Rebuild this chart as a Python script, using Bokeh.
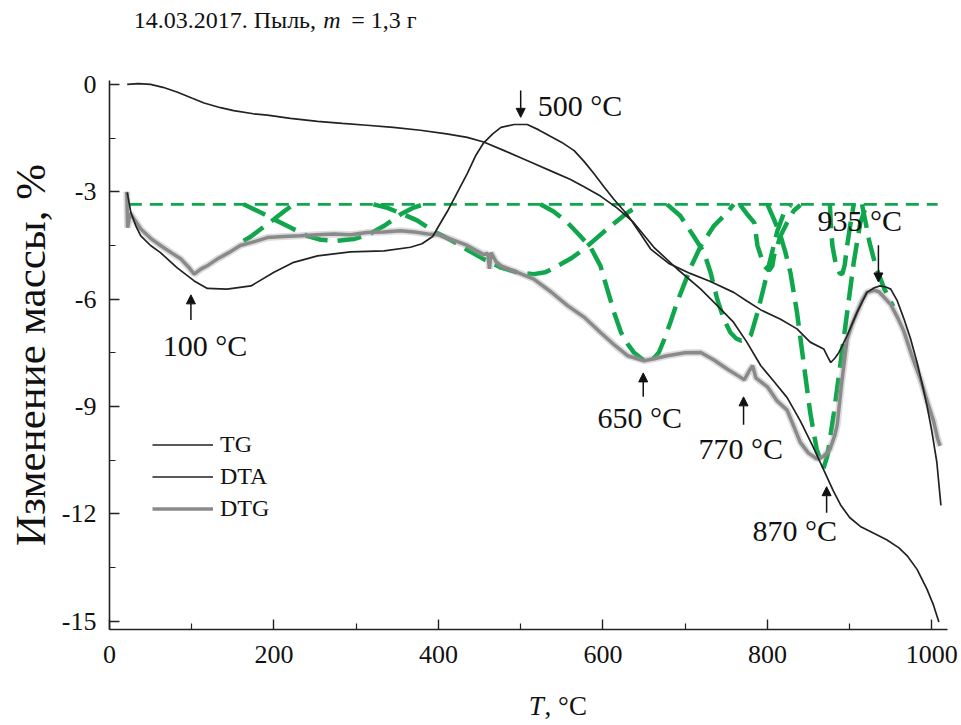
from bokeh.plotting import figure
from bokeh.models import (Range1d, FixedTicker, Label, Arrow, NormalHead,
                          Legend, LegendItem)
from bokeh.embed import file_html
from bokeh.resources import INLINE

# ---------------- data ----------------
tg_t = [21.5, 35, 50, 65, 82, 100, 115, 135, 151, 175, 192, 220, 253, 283, 313,
        345, 378, 410, 435, 455, 480, 500, 516, 540, 560, 577, 597, 617, 637,
        662, 690, 719, 740, 759, 775, 792, 808, 824, 840, 855, 869, 880, 889,
        900, 913, 930, 945, 960, 970, 982, 994, 1002, 1008.5]
tg_m = [0.0, 0.02, 0.0, -0.08, -0.21, -0.38, -0.52, -0.65, -0.73, -0.82, -0.86,
        -0.95, -1.03, -1.09, -1.14, -1.2, -1.28, -1.38, -1.48, -1.61, -1.85,
        -2.05, -2.21, -2.45, -2.65, -2.86, -3.12, -3.45, -3.85, -4.55, -5.15,
        -5.72, -6.2, -6.65, -7.2, -7.86, -8.3, -8.75, -9.4, -10.1, -10.8,
        -11.35, -11.75, -12.1, -12.35, -12.55, -12.72, -12.95, -13.17, -13.55,
        -14.1, -14.55, -15.02]

dta_t = [21.6, 26, 32, 38, 50, 62, 82, 103, 119, 143, 172, 200, 224, 253, 293,
         334, 366, 380, 393, 403, 412, 420, 435, 445, 455, 466, 476, 492, 508,
         522, 536, 550, 565, 577, 589, 601, 613, 630, 645, 658, 680, 706, 730,
         759, 775, 792, 816, 836, 852, 868.5, 873, 877, 882, 887, 897, 909, 921,
         930, 937, 944, 950, 958, 966, 974, 982, 988, 994, 1000, 1006, 1011]
dta_v = [-3.02, -3.58, -3.95, -4.23, -4.5, -4.7, -5.12, -5.49, -5.7, -5.72,
         -5.63, -5.25, -4.97, -4.79, -4.68, -4.65, -4.55, -4.45, -4.25, -3.85,
         -3.5, -3.15, -2.49, -2.0, -1.63, -1.38, -1.2, -1.12, -1.12, -1.27,
         -1.45, -1.62, -1.85, -2.15, -2.49, -2.85, -3.2, -3.65, -4.15, -4.6,
         -5.0, -5.28, -5.5, -5.81, -6.05, -6.3, -6.56, -6.83, -7.2, -7.39, -7.6,
         -7.77, -7.65, -7.49, -7.02, -6.37, -5.81, -5.68, -5.63, -5.66, -5.72,
         -6.05, -6.55, -7.1, -7.77, -8.35, -8.97, -9.7, -10.55, -11.76]

dtg_t = [21, 22, 25, 38, 50, 62, 75, 87, 96, 103, 111, 120, 131, 145, 159, 175,
         192, 212, 232, 252, 273, 293, 313, 333, 354, 370, 387, 400, 415, 435,
         455, 460, 462, 464, 470, 476, 496, 516, 537, 557, 577, 597, 615, 630,
         650, 665, 678, 700, 719, 735, 751, 765, 772, 778, 782, 786, 800, 812,
         824, 840, 850, 860, 868, 876, 882, 885, 890, 897, 903, 909, 915, 921,
         930, 936, 942, 950, 958, 966, 976, 986, 995, 1002, 1007, 1010]
dtg_v = [-3.0, -4.0, -3.6, -4.04, -4.3, -4.5, -4.7, -4.88, -5.1, -5.3, -5.16,
         -5.05, -4.88, -4.7, -4.5, -4.4, -4.28, -4.25, -4.23, -4.2, -4.18, -4.2,
         -4.14, -4.12, -4.09, -4.12, -4.18, -4.2, -4.32, -4.5, -4.75, -4.72,
         -5.15, -4.7, -4.95, -5.07, -5.25, -5.44, -5.8, -6.18, -6.5, -6.93,
         -7.3, -7.58, -7.72, -7.65, -7.58, -7.5, -7.49, -7.7, -7.95, -8.15,
         -8.25, -8.0, -7.86, -8.2, -8.45, -8.85, -9.1, -10.0, -10.3, -10.46,
         -10.4, -10.2, -9.8, -9.5, -8.4, -7.11, -6.7, -6.37, -6.05, -5.81,
         -5.75, -5.8, -5.95, -6.15, -6.5, -6.9, -7.6, -8.23, -8.9, -9.4, -9.9,
         -10.1]

baseline_t = [23.5, 1007]
baseline_v = [-3.35, -3.35]

# deconvolution components (green dashed)
g1_t = [163, 172, 184, 192, 200, 212, 224]
g1_v = [-4.37, -4.25, -4.04, -3.9, -3.77, -3.55, -3.35]
g2_t = [163, 184, 200, 220, 240, 257, 277, 297, 314, 334, 354, 370, 382]
g2_v = [-3.35, -3.58, -3.77, -4.0, -4.23, -4.34, -4.37, -4.32, -4.21, -3.95,
        -3.63, -3.44, -3.35]
g3_t = [321, 338, 354, 374, 394, 415, 435, 455, 476, 496, 516, 530, 545, 562,
        577, 592, 605, 618, 630, 646]
g3_v = [-3.35, -3.45, -3.6, -3.8, -4.1, -4.35, -4.62, -4.88, -5.12, -5.25,
        -5.3, -5.25, -5.07, -4.85, -4.6, -4.3, -4.04, -3.8, -3.58, -3.35]
g4_t = [524, 540, 557, 571, 585, 597, 605, 614, 622, 630, 638, 648, 658, 668,
        675, 682, 690, 698, 708, 719, 735, 751, 759]
g4_v = [-3.35, -3.55, -3.86, -4.2, -4.55, -5.07, -5.7, -6.4, -6.93, -7.25,
        -7.5, -7.68, -7.75, -7.49, -7.1, -6.65, -6.1, -5.63, -5.05, -4.51,
        -3.95, -3.58, -3.35]
g5_t = [678, 694, 710, 723, 731, 739, 747, 755, 762, 768, 775, 780, 788, 796,
        804, 812, 820, 828]
g5_v = [-3.35, -3.67, -4.23, -4.7, -5.26, -6.0, -6.56, -6.93, -7.1, -7.16,
        -7.12, -7.0, -6.37, -5.63, -4.85, -4.1, -3.6, -3.38]
g6_t = [767, 777, 784, 788, 796, 802, 806, 808, 816, 824, 832, 840]
g6_v = [-3.37, -3.67, -3.86, -4.51, -5.07, -5.2, -5.07, -4.79, -4.23, -3.86,
        -3.53, -3.37]
g7_t = [800, 808, 816, 822, 828, 836, 844, 852, 860, 868, 873, 881, 889, 897,
        905, 913, 921]
g7_v = [-3.35, -3.77, -4.23, -4.7, -5.26, -6.37, -7.77, -9.16, -10.2, -10.74,
        -10.37, -9.16, -7.77, -6.37, -4.97, -3.86, -3.35]
g8_t = [876, 877, 879, 883, 888, 891, 894, 897, 901, 905]
g8_v = [-3.35, -3.85, -4.5, -5.0, -5.28, -5.3, -5.05, -4.5, -3.9, -3.35]
g9_t = [915, 919, 924, 932, 942, 953]
g9_v = [-3.35, -3.8, -4.4, -5.1, -5.7, -6.2]

x_ticks = [0, 200, 400, 600, 800, 1000]
x_tick_labels = ["0", "200", "400", "600", "800", "1000"]
x_minor = [100, 300, 500, 700, 900]
y_ticks = [-15, -12, -9, -6, -3, 0]
y_tick_labels = ["-15", "-12", "-9", "-6", "-3", "0"]
y_minor = [-13.5, -10.5, -7.5, -4.5, -1.5]

peak_temps = [100, 500, 650, 770, 870, 935]
peak_labels = ["100 °C", "500 °C", "650 °C", "770 °C", "870 °C", "935 °C"]

series_names = ["TG", "DTA", "DTG"]

# ---------------- figure ----------------
FONT = "Liberation Serif"
p = figure(width=961, height=725, output_backend="svg", toolbar_location=None,
           x_range=Range1d(0, 1019), y_range=Range1d(-15.23, 0.11),
           min_border_left=109, min_border_right=14, min_border_top=80,
           min_border_bottom=95)
p.outline_line_color = None
p.xgrid.visible = False
p.ygrid.visible = False
p.background_fill_color = "white"
p.border_fill_color = "white"

for ax in (p.xaxis[0], p.yaxis[0]):
    ax.axis_line_color = "#222222"
    ax.axis_line_width = 1.6
    ax.major_tick_line_color = "#222222"
    ax.minor_tick_line_color = "#222222"
    ax.major_tick_line_width = 1.4
    ax.minor_tick_line_width = 1.2
    ax.major_tick_in = 10
    ax.major_tick_out = 0
    ax.minor_tick_in = 6
    ax.minor_tick_out = 0
    ax.major_label_text_font = FONT
    ax.major_label_text_font_size = "26px"
    ax.major_label_text_color = "#111111"

p.xaxis.ticker = FixedTicker(ticks=x_ticks, minor_ticks=x_minor)
p.xaxis.major_label_overrides = {t: s for t, s in zip(x_ticks, x_tick_labels)}
p.xaxis.major_label_standoff = 16
p.yaxis.ticker = FixedTicker(ticks=y_ticks, minor_ticks=y_minor)
p.yaxis.major_label_overrides = {t: s for t, s in zip(y_ticks, y_tick_labels)}
p.yaxis.major_label_standoff = 13
p.yaxis.axis_label = "Изменение массы, %"
p.yaxis.axis_label_text_font = FONT
p.yaxis.axis_label_text_font_style = "normal"
p.yaxis.axis_label_text_font_size = "43px"
p.yaxis.axis_label_text_color = "#111111"
p.yaxis.axis_label_standoff = 5

# ---------------- curves ----------------
GREEN = "#10a64c"
p.line(baseline_t, baseline_v, line_color=GREEN, line_width=2.6, line_dash="13 8")
for gt, gv in [(g1_t, g1_v), (g2_t, g2_v), (g3_t, g3_v), (g4_t, g4_v),
               (g5_t, g5_v), (g6_t, g6_v), (g7_t, g7_v), (g8_t, g8_v),
               (g9_t, g9_v)]:
    p.line(gt, gv, line_color=GREEN, line_width=4.5, line_dash="24 10")

p.line(dtg_t, dtg_v, line_color="#9a9a9a", line_width=7, line_alpha=0.35)
r_dtg = p.line(dtg_t, dtg_v, line_color="#8a8a8a", line_width=3.5)
r_tg = p.line(tg_t, tg_m, line_color="#222222", line_width=1.7)
r_dta = p.line(dta_t, dta_v, line_color="#222222", line_width=1.7)

legend = Legend(items=[LegendItem(label=series_names[0], renderers=[r_tg]),
                       LegendItem(label=series_names[1], renderers=[r_dta]),
                       LegendItem(label=series_names[2], renderers=[r_dtg])],
                location=(43, 106), orientation="vertical")
legend.label_text_font = FONT
legend.label_text_font_size = "24px"
legend.label_text_color = "#111111"
legend.glyph_width = 61
legend.glyph_height = 29
legend.label_height = 29
legend.spacing = 3
legend.padding = 0
legend.margin = 0
legend.label_standoff = 7
legend.border_line_color = None
legend.background_fill_alpha = 0
p.add_layout(legend)

# ---------------- annotations ----------------
# peak labels: (x, baseline y) in data units
label_pos = {100: (64.8, -7.29), 500: (520.6, -0.59), 650: (593.5, -9.32),
             770: (716.3, -10.16), 870: (782, -12.45), 935: (861, -3.80)}
# arrows: (y_start, y_end)
arrow_pos = {100: (-6.58, -5.88), 500: (-0.17, -0.92), 650: (-8.73, -8.06),
             770: (-9.51, -8.73), 870: (-11.97, -11.24), 935: (-4.49, -5.52)}
arrow_x = {100: 99, 500: 500, 650: 649, 770: 771, 870: 872, 935: 935}
for t, txt in zip(peak_temps, peak_labels):
    lx, ly = label_pos[t]
    p.add_layout(Label(x=lx, y=ly, text=txt, text_font=FONT,
                       text_font_size="30px", text_color="#111111",
                       text_baseline="alphabetic", text_align="left"))
    ys, ye = arrow_pos[t]
    p.add_layout(Arrow(x_start=arrow_x[t], y_start=ys, x_end=arrow_x[t], y_end=ye,
                       line_color="#111111", line_width=1.5,
                       end=NormalHead(size=9, fill_color="#111111",
                                      line_color="#111111")))

# title pieces (placed in the top side panel so they are not clipped)
for x, txt, style in [(29.4, "14.03.2017. Пыль,", "normal"),
                      (260.0, "m", "italic"),
                      (294.0, "= 1,3 г", "normal")]:
    p.add_layout(Label(x=x, y=1.8, text=txt, text_font=FONT,
                       text_font_size="24px", text_font_style=style,
                       text_color="#111111", text_baseline="alphabetic"),
                 "above")

# x axis label (bottom side panel)
p.add_layout(Label(x=509.7, y=-17.36, text="T", text_font=FONT,
                   text_font_size="27px", text_font_style="italic",
                   text_color="#111111", text_baseline="alphabetic"), "below")
p.add_layout(Label(x=529.1, y=-17.36, text=", °C", text_font=FONT,
                   text_font_size="27px", text_color="#111111",
                   text_baseline="alphabetic"), "below")

open("out.html", "w").write(file_html(p, INLINE))
